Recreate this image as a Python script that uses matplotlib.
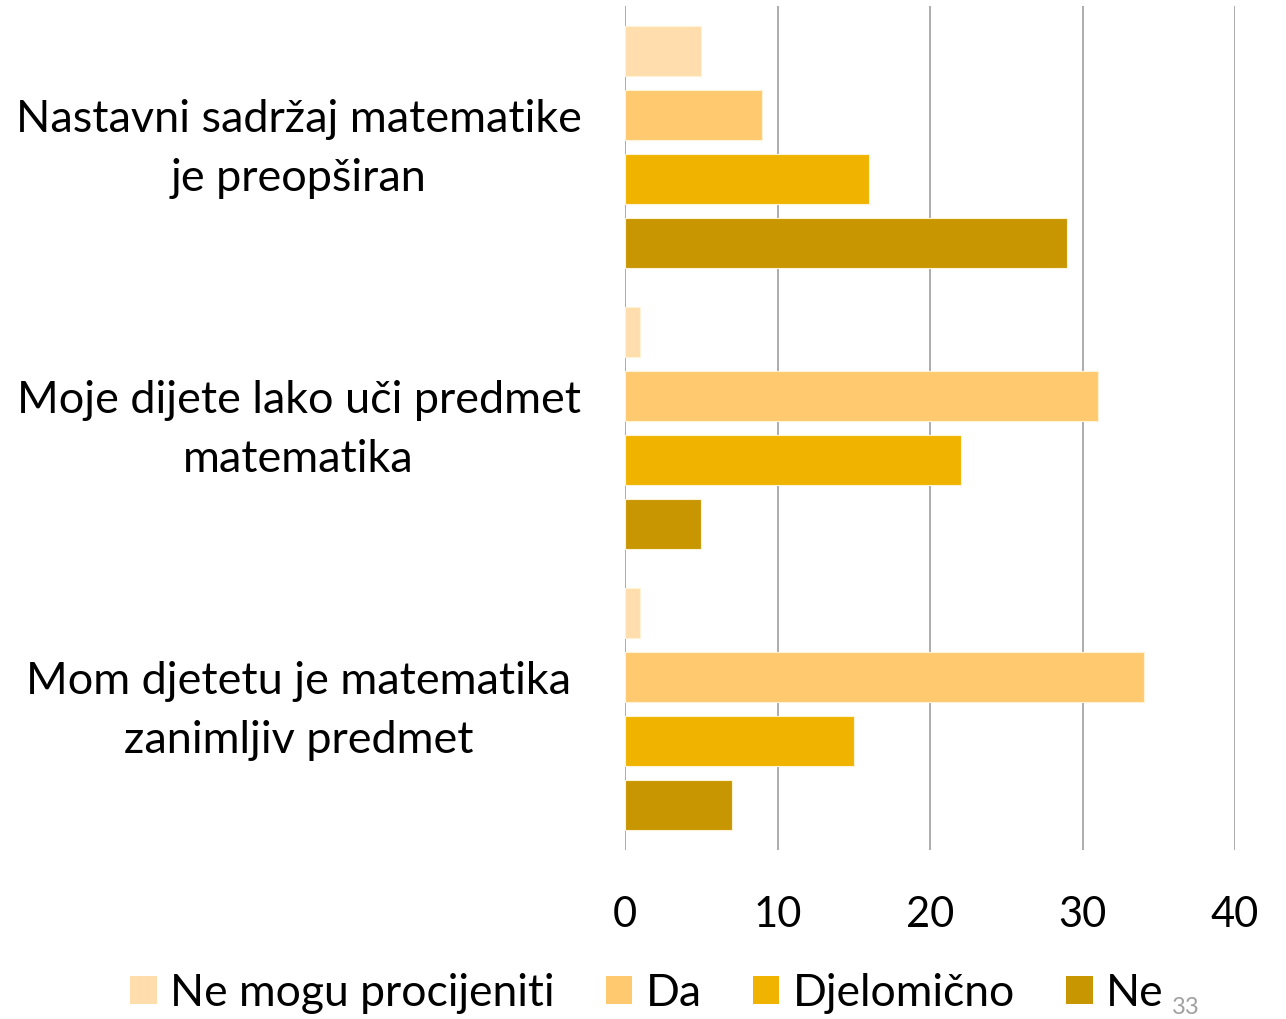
import numpy as np
import matplotlib
matplotlib.use("Agg")
import matplotlib.pyplot as plt
import matplotlib.transforms as mtransforms
from matplotlib.patches import Patch

plt.rcParams['font.family'] = ['Lato', 'DejaVu Sans']

categories = ["Nastavni sadržaj matematike\nje preopširan",
              "Moje dijete lako uči predmet\nmatematika",
              "Mom djetetu je matematika\nzanimljiv predmet"]
series = ["Ne mogu procijeniti", "Da", "Djelomično", "Ne"]
ne_mogu = [5, 1, 1]
da = [9, 31, 34]
djelomicno = [16, 22, 15]
ne = [29, 5, 7]
colors = ["#FFDDAD", "#FFC96F", "#F0B400", "#C89600"]

values = [ne_mogu, da, djelomicno, ne]

fig = plt.figure(figsize=(12.86, 10.19), dpi=100)
ax = fig.add_axes([625 / 1286, 1 - 850 / 1019, 610 / 1286, 844 / 1019])

y = np.arange(len(categories))
step = 0.2276
h = 0.178
for i, (vals, c) in enumerate(zip(values, colors)):
    off = (i - 1.5) * step
    ax.barh(y + off, vals, height=h, color=c, edgecolor="#FFF3D6", linewidth=0.8, zorder=3)

ax.set_xlim(0, 40)
ax.set_ylim(2.5, -0.5)
ax.set_xticks([0, 10, 20, 30, 40])
ax.xaxis.grid(True, color="#A6A6A6", linewidth=1.3, zorder=0)
ax.tick_params(axis="x", length=0, labelsize=30, pad=33)
ax.set_yticks(y)
ax.set_yticklabels(categories, fontsize=32.4, ha="center", linespacing=1.55)
ax.tick_params(axis="y", length=0, pad=235)
# nudge the category labels up a little
shift = mtransforms.ScaledTranslation(0, 0.11, fig.dpi_scale_trans)
for lab in ax.get_yticklabels():
    lab.set_transform(lab.get_transform() + shift)
for s in ax.spines.values():
    s.set_visible(False)

handles = [Patch(facecolor=c, label=s) for s, c in zip(series, colors)]
fig.legend(handles=handles, loc="center", bbox_to_anchor=(0.503, 1 - 993 / 1019), ncol=4,
           frameon=False, fontsize=32, handlelength=0.6, handleheight=0.6,
           handletextpad=0.3, columnspacing=1.15)

fig.text(1186 / 1286, 1 - 1008 / 1019, "33", fontsize=17, color="#A0A0A0", ha="center", va="center")

fig.savefig("out.png", dpi=100)
